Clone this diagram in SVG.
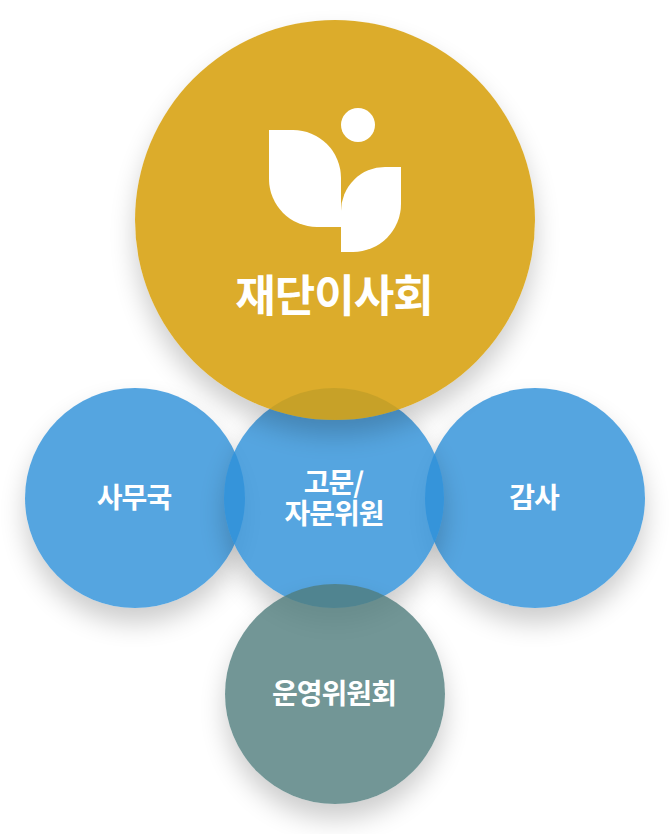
<svg xmlns="http://www.w3.org/2000/svg" width="670" height="834" viewBox="0 0 670 834">
<defs>
<filter id="s" x="-30%" y="-30%" width="160%" height="160%"><feGaussianBlur in="SourceAlpha" stdDeviation="13"/><feOffset dy="15"/><feComponentTransfer result="o"><feFuncA type="linear" slope="0.2"/></feComponentTransfer><feFlood flood-color="#000"/><feComposite in2="o" operator="in"/><feComposite in2="SourceAlpha" operator="out"/></filter>
</defs>
<style>
.t{font-family:"Noto Sans CJK KR","Noto Sans",sans-serif;font-weight:700;fill:#fff;text-anchor:middle;letter-spacing:-1px}
.m{font-size:28px}
.h{fill:#000;filter:url(#s)}
.b{fill:#2d90d9;fill-opacity:.81}
</style>
<g id="office"><circle class="h" cx="135" cy="498" r="110"/><circle class="b" cx="135" cy="498" r="110"/></g>
<g id="audit"><circle class="h" cx="535" cy="498" r="110"/><circle class="b" cx="535" cy="498" r="110"/></g>
<g id="advisory"><circle class="h" cx="334" cy="498" r="110"/><circle class="b" cx="334" cy="498" r="110"/></g>
<g id="gold"><circle class="h" cx="335" cy="220" r="200"/><circle cx="335" cy="220" r="200" fill="#d7a00e" fill-opacity=".88"/>
<path fill="#fff" d="M269 130H293A48 48 0 0 1 341 178V227H317A48 48 0 0 1 269 179Z"/>
<path fill="#fff" d="M401 167V204A48 48 0 0 1 353 252H341V211A44 44 0 0 1 385 167Z"/>
<circle cx="358" cy="125" r="17" fill="#fff"/>
<text class="t" x="334" y="312" font-size="44">재단이사회</text></g>
<g id="steering"><circle class="h" cx="335" cy="694" r="110"/><circle cx="335" cy="694" r="110" fill="#4f7c7c" fill-opacity=".8"/><text class="t m" x="334" y="704">운영위원회</text></g>
<g id="labels"><text class="t m" x="134" y="508">사무국</text><text class="t m" x="333.500" y="493">고문/</text><text class="t m" x="334" y="524">자문위원</text><text class="t m" x="534" y="508">감사</text></g>
<g id="connectors"/>
</svg>
